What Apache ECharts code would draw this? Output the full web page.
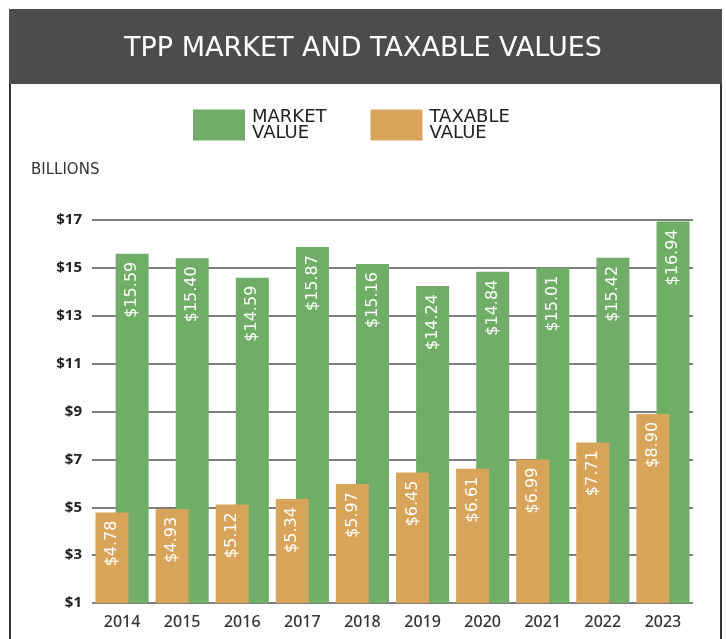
<!DOCTYPE html>
<html>
<head>
<meta charset="utf-8">
<script src="https://cdn.jsdelivr.net/npm/echarts@6/dist/echarts.min.js"></script>
<style>
  html, body { margin: 0; padding: 0; background: #fff; }
  #chart { width: 726px; height: 639px; }
</style>
</head>
<body>
<div id="chart"></div>
<script>
// 数据
const years = ['2014', '2015', '2016', '2017', '2018', '2019', '2020', '2021', '2022', '2023'];
const marketValue = [15.59, 15.40, 14.59, 15.87, 15.16, 14.24, 14.84, 15.01, 15.42, 16.94];
const taxableValue = [4.78, 4.93, 5.12, 5.34, 5.97, 6.45, 6.61, 6.99, 7.71, 8.90];
const yTicks = [1, 3, 5, 7, 9, 11, 13, 15, 17];

const GREEN = '#70ad67';
const ORANGE = '#d8a45a';
const FONT = 'Noto Sans';
const WIDE = 'DejaVu Sans';

const chart = echarts.init(document.getElementById('chart'));

// 柱内标签
function barLabel() {
    return {
        show: true,
        position: 'insideTop',
        distance: 8,
        rotate: 90,
        align: 'right',
        verticalAlign: 'middle',
        color: '#fff',
        fontSize: 16,
        fontFamily: WIDE,
        formatter: p => '$' + p.value.toFixed(2)
    };
}

chart.setOption({
    animation: false,
    textStyle: { fontFamily: FONT },
    graphic: [
        // 外框
        {
            type: 'rect', z: -1,
            shape: { x: 10, y: 10, width: 711, height: 660 },
            style: { fill: '#fff', stroke: '#333', lineWidth: 2 }
        },
        // 标题栏
        {
            type: 'rect', z: 0,
            shape: { x: 9, y: 9, width: 713, height: 75 },
            style: { fill: '#4b4c4b' }
        },
        {
            type: 'text', z: 1, x: 363, y: 49,
            style: {
                text: 'TPP MARKET AND TAXABLE VALUES',
                fill: '#fff', fontSize: 27, fontFamily: WIDE,
                align: 'center', verticalAlign: 'middle'
            }
        },
        {
            type: 'text', left: 31, top: 163,
            style: { text: 'BILLIONS', fill: '#333', fontSize: 15, fontFamily: WIDE }
        }
    ],
    legend: {
        data: ['MARKET\nVALUE', 'TAXABLE\nVALUE'],
        left: 188,
        top: 103,
        itemWidth: 52,
        itemHeight: 31,
        itemGap: 44,
        icon: 'rect',
        textStyle: {
            color: '#222',
            fontSize: 18,
            lineHeight: 16,
            fontFamily: WIDE,
            padding: [0, 0, 0, 2]
        }
    },
    grid: { left: 92, right: 33, top: 220, bottom: 36 },
    xAxis: {
        type: 'category',
        data: years,
        axisTick: { show: false },
        axisLine: { show: false },
        axisLabel: { color: '#333', fontSize: 16, fontWeight: 500, margin: 11 }
    },
    yAxis: {
        type: 'value',
        min: yTicks[0],
        max: yTicks[yTicks.length - 1],
        interval: 2,
        axisLine: { show: false },
        axisTick: { show: false },
        splitLine: { lineStyle: { color: '#555', width: 1.5 } },
        axisLabel: {
            color: '#222', fontSize: 15, fontWeight: 'bold', margin: 10,
            formatter: v => '$' + v
        }
    },
    series: [
        {
            name: 'TAXABLE\nVALUE',
            type: 'bar',
            data: taxableValue,
            barWidth: 33,
            barGap: '-39%',
            z: 3,
            itemStyle: { color: ORANGE },
            label: barLabel()
        },
        {
            name: 'MARKET\nVALUE',
            type: 'bar',
            data: marketValue,
            barWidth: 33,
            z: 2,
            itemStyle: { color: GREEN },
            label: barLabel()
        }
    ]
});
</script>
</body>
</html>
